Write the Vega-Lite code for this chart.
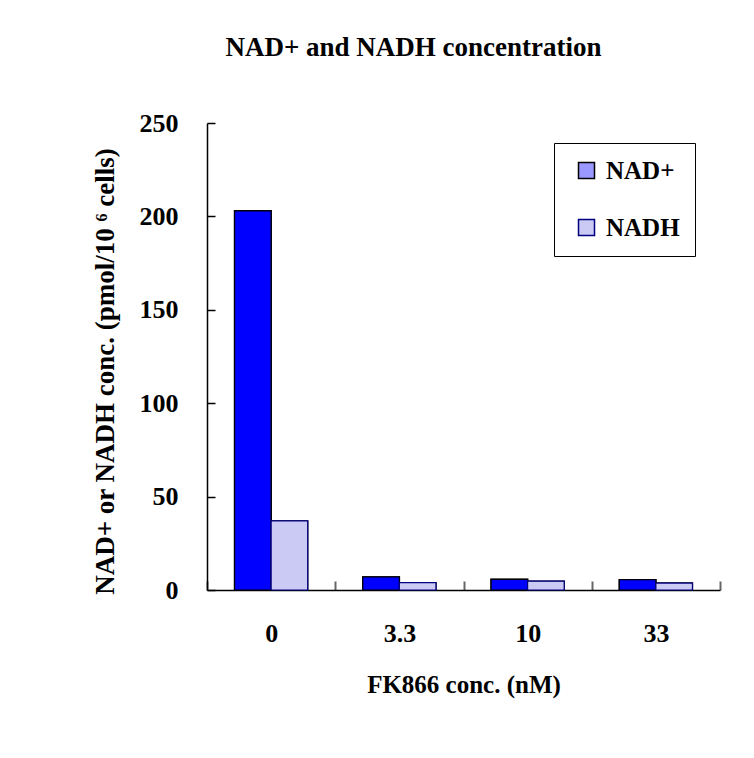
{
  "$schema": "https://vega.github.io/schema/vega-lite/v6.json",
  "width": 513,
  "height": 467,
  "autosize": {"type": "none"},
  "padding": {"left": 207, "top": 123, "right": 34, "bottom": 168},
  "background": "white",
  "title": {
    "text": "NAD+ and NADH concentration",
    "font": "Liberation Serif",
    "fontSize": 27,
    "fontWeight": "bold",
    "color": "black",
    "anchor": "middle",
    "dx": -50,
    "offset": 48
  },
  "data": {
    "values": [
      {"conc": "0", "series": "NAD+", "value": 203},
      {"conc": "0", "series": "NADH", "value": 37},
      {"conc": "3.3", "series": "NAD+", "value": 7},
      {"conc": "3.3", "series": "NADH", "value": 3.9},
      {"conc": "10", "series": "NAD+", "value": 5.7},
      {"conc": "10", "series": "NADH", "value": 4.7},
      {"conc": "33", "series": "NAD+", "value": 5.5},
      {"conc": "33", "series": "NADH", "value": 3.7}
    ]
  },
  "encoding": {
    "x": {
      "field": "conc",
      "type": "nominal",
      "sort": ["0", "3.3", "10", "33"],
      "scale": {"paddingInner": 0, "paddingOuter": 0},
      "axis": {
        "title": "FK866 conc. (nM)",
        "labelAngle": 0,
        "tickBand": "extent",
        "tickSize": -9,
        "tickColor": "#666666",
        "tickWidth": 2,
        "domainColor": "black",
        "domainWidth": 1.5,
        "labelFont": "Liberation Serif",
        "labelFontSize": 26,
        "labelFontWeight": "bold",
        "labelColor": "black",
        "labelPadding": 39,
        "titleFont": "Liberation Serif",
        "titleFontSize": 25,
        "titleFontWeight": "bold",
        "titleColor": "black",
        "titlePadding": 26
      }
    },
    "xOffset": {
      "field": "series",
      "type": "nominal",
      "scale": {"paddingInner": 0, "paddingOuter": 0.7534}
    },
    "y": {
      "field": "value",
      "type": "quantitative",
      "scale": {"domain": [0, 250]},
      "axis": {
        "title": "NAD+ or NADH conc. (pmol/10  ⁶  cells)",
        "values": [0, 50, 100, 150, 200, 250],
        "grid": false,
        "tickSize": -8,
        "tickColor": "black",
        "tickWidth": 1.5,
        "domainColor": "black",
        "domainWidth": 1.5,
        "labelFont": "Liberation Serif",
        "labelFontSize": 26,
        "labelFontWeight": "bold",
        "labelColor": "black",
        "labelPadding": 37,
        "titleFont": "Liberation Serif",
        "titleFontSize": 27,
        "titleFontWeight": "bold",
        "titleColor": "black",
        "titlePadding": 20,
        "titleY": 248
      }
    }
  },
  "layer": [
    {
      "mark": {"type": "bar", "stroke": "black", "strokeWidth": 1.5},
      "encoding": {
        "color": {
          "field": "series",
          "type": "nominal",
          "scale": {"domain": ["NAD+", "NADH"], "range": ["#9999ff", "#cacaf5"]},
          "legend": {
            "title": null,
            "orient": "none",
            "legendX": 347,
            "legendY": 20,
            "strokeColor": "black",
            "fillColor": "white",
            "padding": 15,
            "symbolType": "square",
            "symbolSize": 256,
            "symbolOffset": 5,
            "labelOffset": 7,
            "rowPadding": 31,
            "labelFont": "Liberation Serif",
            "labelFontSize": 25,
            "labelFontWeight": "bold",
            "labelColor": "black"
          }
        }
      }
    },
    {
      "mark": {"type": "bar", "strokeWidth": 1.2},
      "encoding": {
        "fill": {
          "field": "series",
          "type": "nominal",
          "scale": {"domain": ["NAD+", "NADH"], "range": ["#0000ff", "#cacaf5"]},
          "legend": null
        },
        "stroke": {
          "field": "series",
          "type": "nominal",
          "scale": {"domain": ["NAD+", "NADH"], "range": ["black", "#000080"]},
          "legend": null
        }
      }
    }
  ],
  "config": {
    "view": {"stroke": null}
  }
}
